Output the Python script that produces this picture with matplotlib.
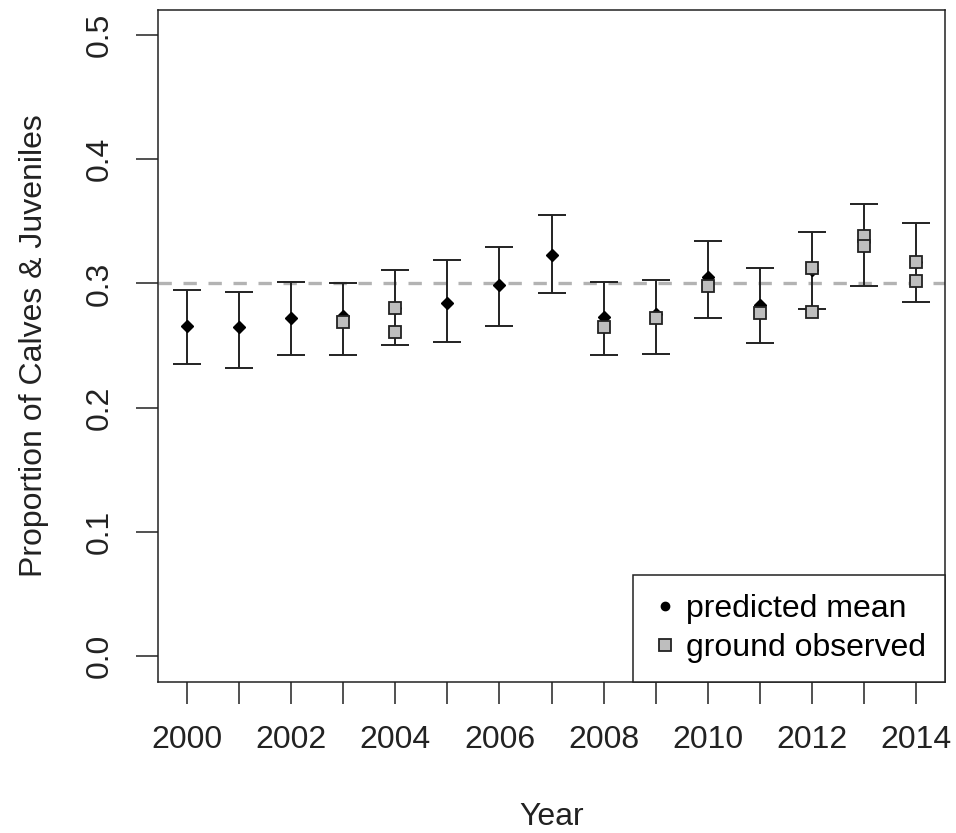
import numpy as np
import matplotlib
matplotlib.use("Agg")
import matplotlib.pyplot as plt
from matplotlib.lines import Line2D

plt.rcParams["font.family"] = ["Liberation Sans", "DejaVu Sans"]

# predicted mean with interval, one per year
years = np.arange(2000, 2015)
pred_mean = [0.266, 0.265, 0.272, 0.274, 0.280, 0.284, 0.299, 0.323,
             0.273, 0.275, 0.305, 0.283, 0.311, 0.333, 0.317]
pred_low = [0.235, 0.232, 0.242, 0.242, 0.250, 0.253, 0.266, 0.292,
            0.242, 0.243, 0.272, 0.252, 0.279, 0.298, 0.285]
pred_high = [0.295, 0.293, 0.301, 0.300, 0.311, 0.319, 0.329, 0.355,
             0.301, 0.303, 0.334, 0.312, 0.341, 0.364, 0.349]

# ground observed proportions (some years have two surveys)
obs_year = [2003, 2004, 2004, 2008, 2009, 2010, 2011, 2012, 2012,
            2013, 2013, 2014, 2014]
obs_prop = [0.269, 0.280, 0.261, 0.265, 0.272, 0.298, 0.276, 0.312, 0.277,
            0.338, 0.330, 0.317, 0.302]

target = 0.3

fig = plt.figure(figsize=(9.56, 8.33), dpi=100)
ax = fig.add_axes([0.1653, 0.1813, 0.8232, 0.8067])

ax.axhline(target, color="#b3b3b3", lw=2.4, ls=(0, (4, 3.5)), zorder=1)

pm = np.array(pred_mean)
yerr = [pm - np.array(pred_low), np.array(pred_high) - pm]
ax.errorbar(years, pm, yerr=yerr, fmt="none", ecolor="#222222",
            elinewidth=1.4, capsize=10, capthick=1.4, zorder=2)
ax.plot(years, pm, "D", color="black", ms=6.5, zorder=3)
ax.plot(obs_year, obs_prop, "s", mfc="#bebebe", mec="#222222", mew=1.3,
        ms=9, ls="none", zorder=4)

ax.set_xlim(1999.44, 2014.56)
ax.set_ylim(-0.0209, 0.5201)
ax.set_xticks(years)
ax.set_xticklabels([str(y) if y % 2 == 0 else "" for y in years])
ax.set_yticks([0.0, 0.1, 0.2, 0.3, 0.4, 0.5])
ax.set_yticklabels(["0.0", "0.1", "0.2", "0.3", "0.4", "0.5"],
                   rotation=90, va="center")
ax.tick_params(axis="both", direction="out", length=16, width=1.1,
               labelsize=23, colors="#222222")
ax.tick_params(axis="x", pad=15)
ax.tick_params(axis="y", pad=15)
for s in ax.spines.values():
    s.set_linewidth(1.1)
    s.set_color("#222222")

ax.set_xlabel("Year", fontsize=23, labelpad=34, color="#222222")
ax.set_ylabel("Proportion of Calves & Juveniles", fontsize=23,
              labelpad=26, color="#222222")

handles = [
    Line2D([], [], marker="o", color="black", ls="none", ms=6),
    Line2D([], [], marker="s", mfc="#bebebe", mec="#222222", mew=1.3,
           ls="none", ms=9),
]
leg = ax.legend(handles, ["predicted mean", "ground observed"],
                loc="lower right", fontsize=23, borderaxespad=0,
                fancybox=False, edgecolor="#222222", framealpha=1,
                handletextpad=0.25, handlelength=0.8, borderpad=0.6,
                labelspacing=0.28)
leg.get_frame().set_linewidth(1.1)

fig.savefig("out.png", dpi=100)
